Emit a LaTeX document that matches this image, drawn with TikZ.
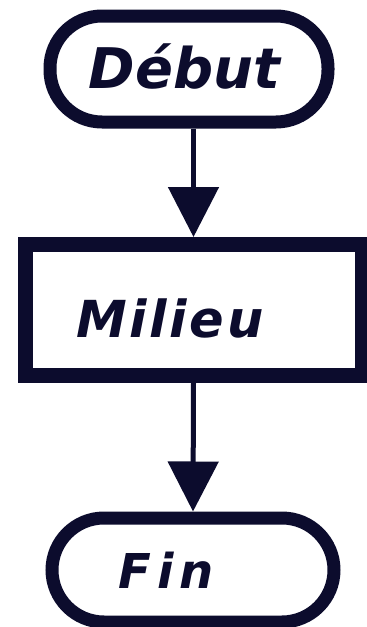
\documentclass[tikz,border=0pt]{standalone}
\usepackage{fontspec}
\newfontfamily\handA{DejaVu Sans}[LetterSpace=0]
\newfontfamily\handB{DejaVu Sans}[LetterSpace=5]
\newfontfamily\handC{DejaVu Sans}[LetterSpace=13]
\usetikzlibrary{arrows.meta}
\definecolor{ink}{RGB}{12,12,45}
\tikzset{
  terminal/.style={draw=ink, line width=13pt, rounded corners=52pt, inner sep=0pt},
  process/.style={draw=ink, line width=15pt, inner sep=0pt},
  flow/.style={draw=ink, line width=5pt, -{Triangle[width=50pt,length=50pt]}},
  lbl/.style={text=ink, inner sep=0pt, anchor=base}
}
\begin{document}
\begin{tikzpicture}[x=1pt,y=-1pt]
\fill[white] (0,0) rectangle (367,627);
\useasboundingbox (0,0) rectangle (367,627);
\node[terminal, minimum width=278pt, minimum height=106pt] (start) at (189,69) {};
\node[process, minimum width=337pt, minimum height=131pt] (mid) at (193.5,310) {};
\node[terminal, minimum width=282pt, minimum height=104pt] (end) at (193,570) {};
\node[lbl, font=\handA\bfseries\itshape\fontsize{56}{58}\selectfont] (t1) at (184.5,88) {Début};
\node[lbl, font=\handB\bfseries\itshape\fontsize{51}{53}\selectfont] (t2) at (170,337) {Milieu};
\node[lbl, font=\handC\bfseries\itshape\fontsize{48}{50}\selectfont] (t3) at (166,588) {Fin};
\draw[flow] (start.south -| mid.north) -- (mid.north);
\draw[flow] (mid.south) -- (end.north);
\end{tikzpicture}
\end{document}
